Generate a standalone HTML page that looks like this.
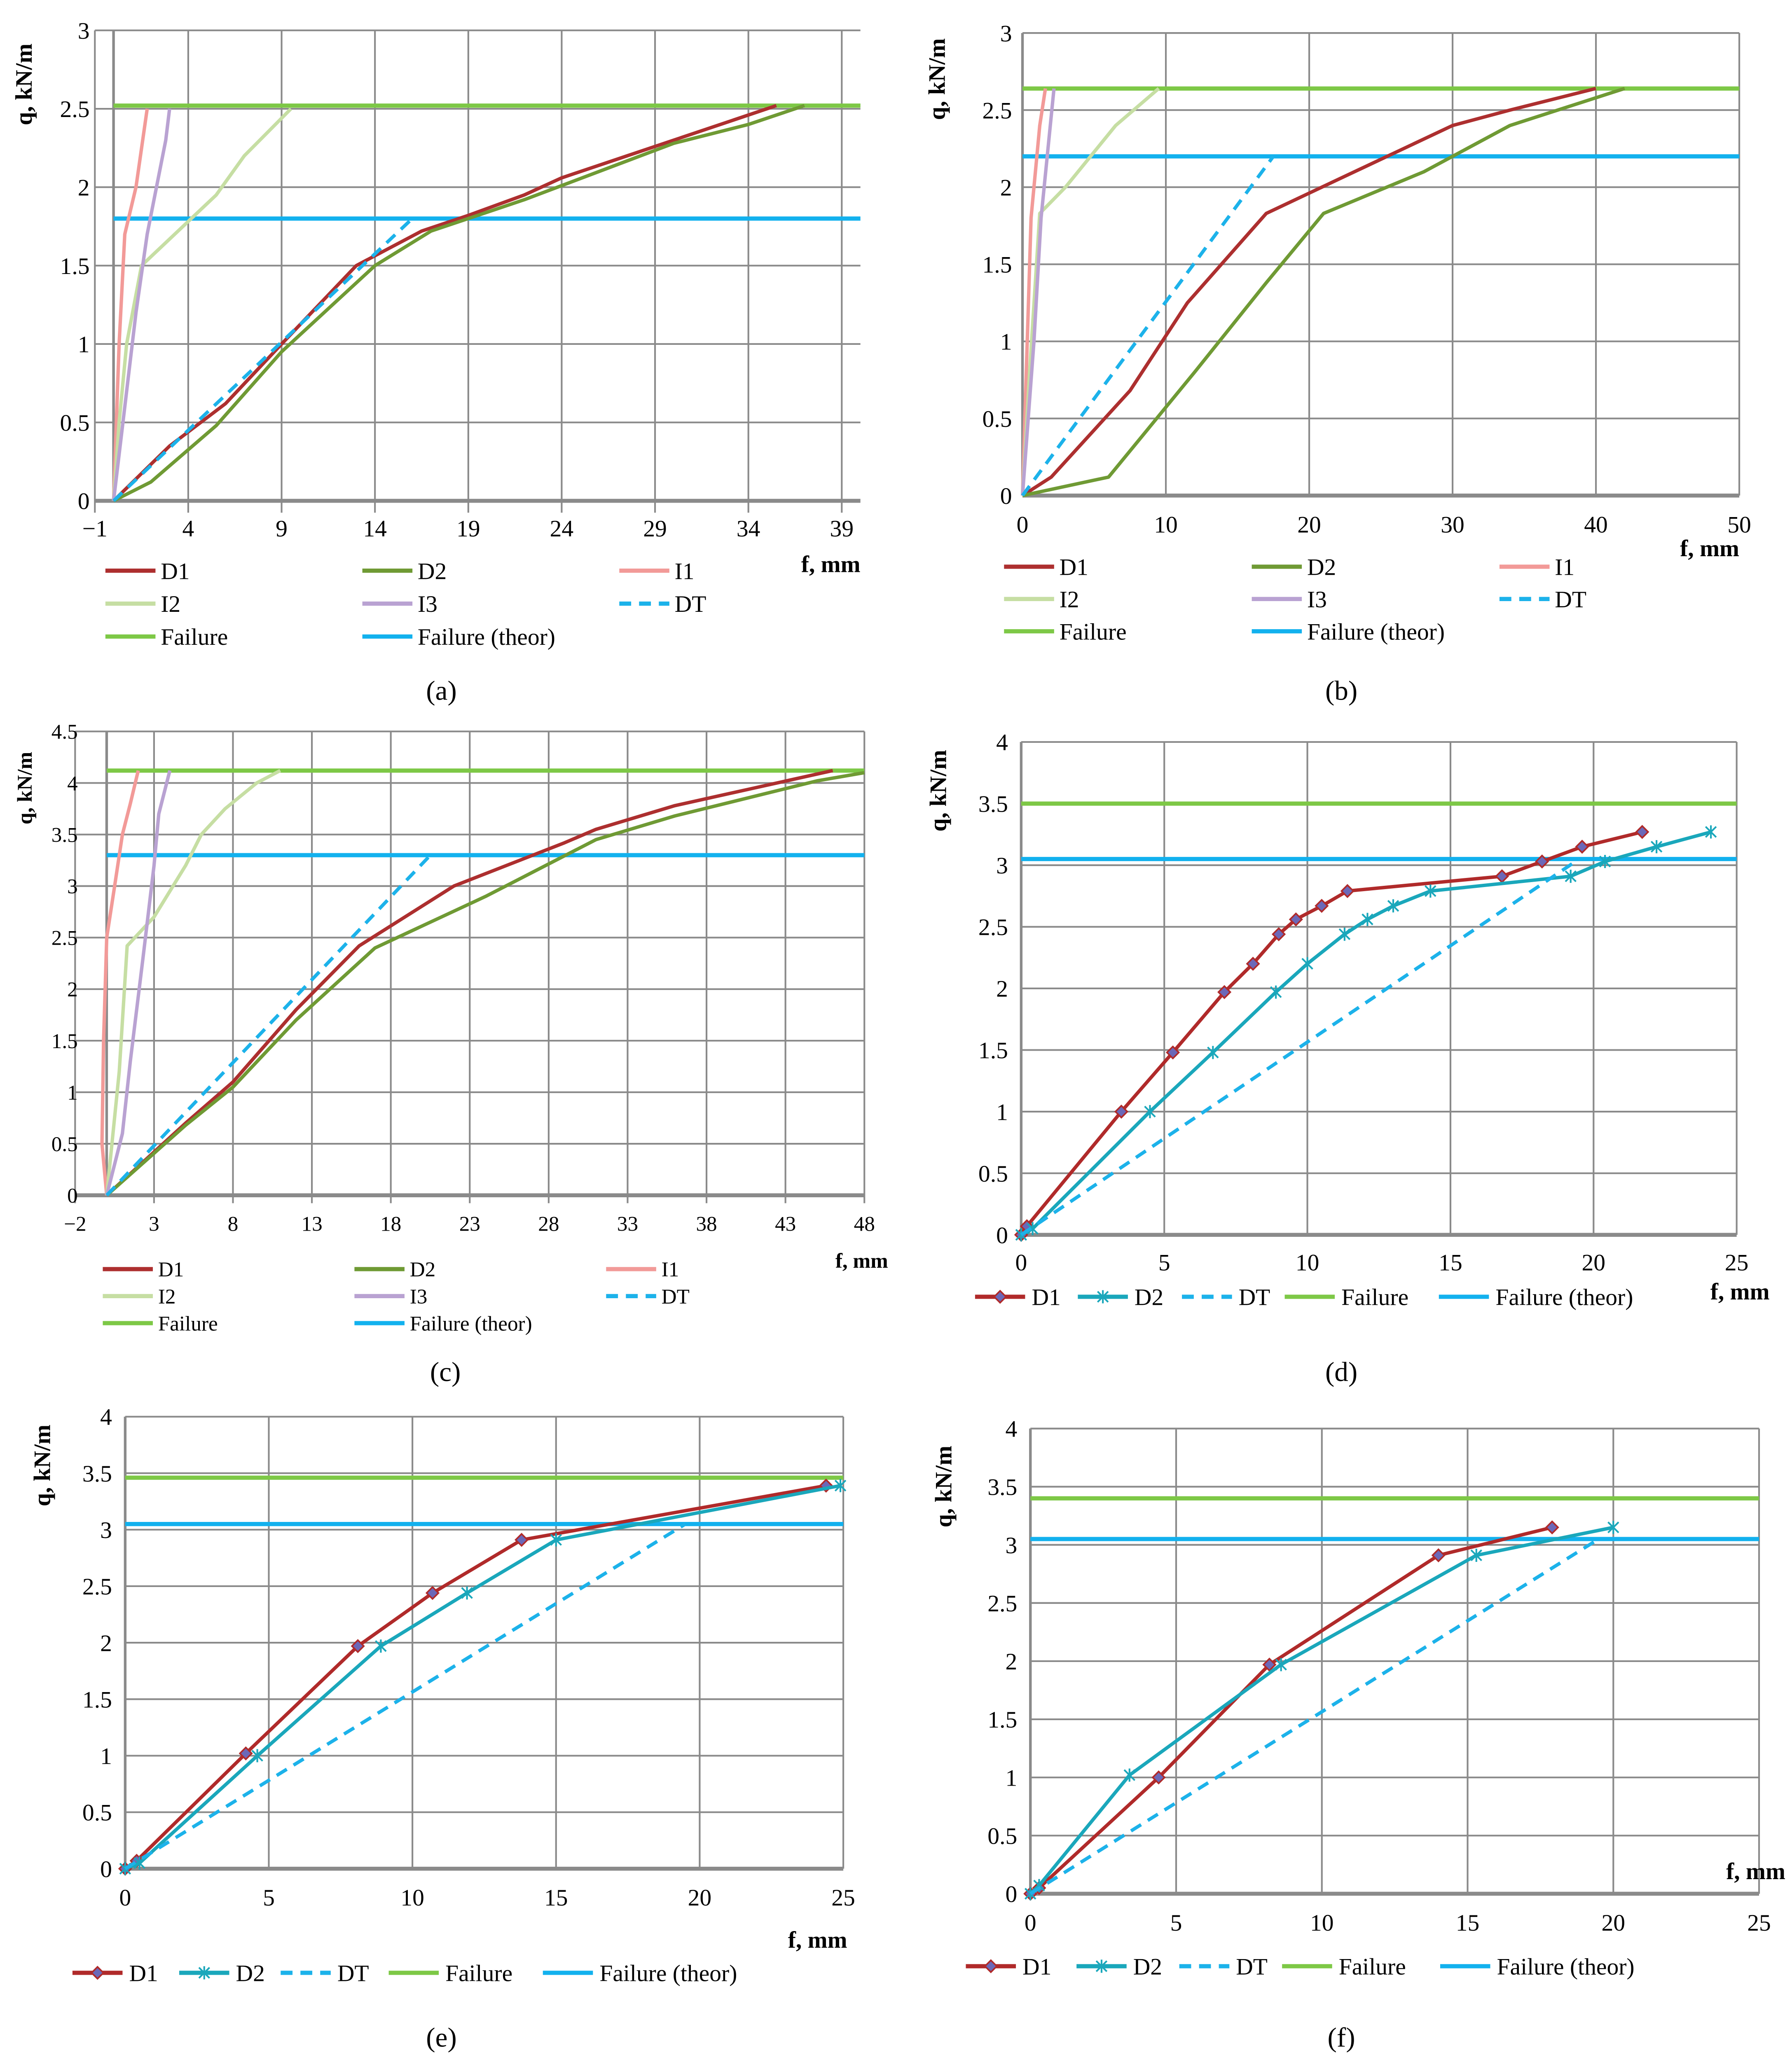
<!DOCTYPE html>
<html><head><meta charset="utf-8"><style>
html,body{margin:0;padding:0;background:#fff;width:4350px;height:5014px;overflow:hidden}
svg{display:block}
text{font-family:"Liberation Serif",serif;fill:#000}
</style></head><body>
<svg id="fig" width="4350" height="5014" viewBox="0 0 1360 1567.5" xmlns="http://www.w3.org/2000/svg"></svg>
<script>
// ---- data (x = f mm, y = q kN/m) ----
const aD1=[[0,0],[3,0.35],[6,0.62],[9,1.0],[13,1.5],[16.5,1.72],[19,1.82],[22,1.95],[24,2.06],[30,2.3],[35.5,2.52]];
const aD2=[[0,0],[2,0.12],[5.5,0.48],[9,0.95],[14,1.5],[17,1.72],[22,1.92],[30,2.28],[34,2.4],[37,2.52]];
const aI1=[[0,0],[0.3,1.0],[0.6,1.7],[1.2,2.0],[1.8,2.5]];
const aI2=[[0,0],[0.3,0.5],[0.7,1.0],[1.5,1.5],[5.5,1.95],[7,2.2],[9.5,2.5]];
const aI3=[[0,0],[0.5,0.5],[1.2,1.2],[1.8,1.7],[2.8,2.3],[3,2.5]];
const aDT=[[0,0],[16,1.8]];
const aFail=[2.52,1.8];
const aXticks=[-1,4,9,14,19,24,29,34,39];
const bD1=[[0,0],[2,0.12],[7.5,0.68],[11.5,1.25],[17,1.83],[22,2.05],[30,2.4],[34,2.5],[40,2.64]];
const bD2=[[0,0],[6,0.12],[12,0.8],[17,1.38],[21,1.83],[28,2.1],[34,2.4],[42,2.64]];
const bI1=[[0,0],[0.6,1.8],[1.2,2.4],[1.6,2.64]];
const bI2=[[0,0],[0.5,0.8],[1.2,1.83],[3,2.0],[6.5,2.4],[9.5,2.64]];
const bI3=[[0,0],[0.8,1.0],[1.3,1.8],[2.2,2.64]];
const bDT=[[0,0],[17.5,2.2]];
const bFail=[2.64,2.2];
const bXticks=[0,10,20,30,40,50];
const cD1=[[0,0],[5,0.7],[8,1.1],[12,1.8],[16,2.42],[22,3.0],[29,3.42],[31,3.55],[36,3.78],[41,3.95],[46,4.12]];
const cD2=[[0,0],[5,0.68],[8,1.05],[12,1.7],[17,2.4],[24,2.9],[31,3.45],[36,3.68],[45,4.02],[48,4.1]];
const cI1=[[0,0],[-0.3,0.5],[-0.2,1.5],[0,2.5],[0.5,3.0],[1,3.5],[1.5,3.8],[2,4.12]];
const cI2=[[0,0],[0.8,1.2],[1.3,2.42],[3,2.7],[5,3.2],[6,3.5],[7.5,3.75],[9.5,4.0],[11,4.12]];
const cI3=[[0,0],[1,0.6],[1.5,1.3],[2.3,2.3],[3,3.2],[3.3,3.7],[4,4.12]];
const cDT=[[0,0],[20.5,3.3]];
const cFail=[4.12,3.3];
const cXticks=[-2,3,8,13,18,23,28,33,38,43,48];
const dD1=[[0,0],[0.2,0.07],[3.5,1.0],[5.3,1.48],[7.1,1.97],[8.1,2.2],[9,2.44],[9.6,2.56],[10.5,2.67],[11.4,2.79],[16.8,2.91],[18.2,3.03],[19.6,3.15],[21.7,3.27]];
const dD2=[[0,0],[0.4,0.05],[4.5,1.0],[6.7,1.48],[8.9,1.97],[10,2.2],[11.3,2.44],[12.1,2.56],[13,2.67],[14.3,2.79],[19.2,2.91],[20.4,3.03],[22.2,3.15],[24.1,3.27]];
const dDT=[[0,0],[19.5,3.05]];
const dFail=[3.5,3.05];
const eD1=[[0,0],[0.4,0.07],[4.2,1.02],[8.1,1.97],[10.7,2.44],[13.8,2.91],[24.4,3.39]];
const eD2=[[0,0],[0.5,0.05],[4.6,1.0],[8.9,1.97],[11.9,2.44],[15,2.91],[24.9,3.39]];
const eDT=[[0,0],[19.5,3.05]];
const eFail=[3.46,3.05];
const fD1=[[0,0],[0.3,0.05],[4.4,1.0],[8.2,1.97],[14,2.91],[17.9,3.15]];
const fD2=[[0,0],[0.3,0.07],[3.4,1.02],[8.6,1.97],[15.3,2.91],[20,3.15]];
const fDT=[[0,0],[19.5,3.05]];
const fFail=[3.4,3.05];
const xt25=[0,5,10,15,20,25];

const C={D1:'#ad2f2f',D2:'#6f9a34',I1:'#f29a98',I2:'#c6dea3',I3:'#b9a2d2',DT:'#1cb2ea',F:'#7dc846',FT:'#12b1ee',D1b:'#b02a2a',D2b:'#1aa7bb'};
const svg=document.getElementById('fig');
const NS='http://www.w3.org/2000/svg';
function mk(tag,attrs,parent){const e=document.createElementNS(NS,tag);for(const k in attrs)e.setAttribute(k,attrs[k]);(parent||svg).appendChild(e);return e;}
function txt(s,x,y,attrs,parent){const e=mk('text',Object.assign({x:x,y:y},attrs),parent);e.textContent=s;return e;}

function panel(p){
  const g=mk('g',{});
  
  
  const sx=v=>p.px0+(v-p.xmin)/(p.xmax-p.xmin)*(p.px1-p.px0);
  const sy=v=>p.py0-(v)/(p.ymax)*(p.py0-p.py1);
  for(const t of p.xticks){const l=mk('line',{x1:sx(t),x2:sx(t),y1:p.py1,y2:p.py0+(p.tick||0),stroke:'#8a8a8a','stroke-width':1.3},g);
    
    const tl=txt(String(t).replace('-','\u2212'),sx(t),p.py0+p.xlab,{'text-anchor':'middle','font-size':p.fs},g);
    }
  for(let v=0;v<=p.ymax+1e-9;v+=0.5){const y=sy(v);
    const l=mk('line',{x1:p.px0,x2:p.px1,y1:y,y2:y,stroke:'#8a8a8a','stroke-width':v===0?3:1.3},g);
    
    const tl=txt(String(v),p.px0-(p.ylabOff||5),y+p.fs*0.35,{'text-anchor':'end','font-size':p.fs},g);
    }
  const ya=mk('line',{x1:sx(0),x2:sx(0),y1:p.py1,y2:p.py0,stroke:'#8a8a8a','stroke-width':2},g);
  
  const fl=mk('line',{x1:sx(0),x2:p.px1,y1:sy(p.fail[0]),y2:sy(p.fail[0]),stroke:C.F,'stroke-width':3.2},g);
  
  const ft=mk('line',{x1:sx(0),x2:p.px1,y1:sy(p.fail[1]),y2:sy(p.fail[1]),stroke:C.FT,'stroke-width':3.2},g);
  
  for(const s of p.series){
    const pts=s.data.map(d=>sx(d[0]).toFixed(1)+','+sy(d[1]).toFixed(1)).join(' ');
    const pl=mk('polyline',{points:pts,fill:'none',stroke:s.color,'stroke-width':s.w||2.6,'stroke-dasharray':s.dash||'none','stroke-linejoin':'round'},g);
    
    if(s.marker){for(const d of s.data){const x=sx(d[0]),y=sy(d[1]);let m;
      if(s.marker==='diamond'){m=mk('polygon',{points:`${x},${y-4.5} ${x+4.5},${y} ${x},${y+4.5} ${x-4.5},${y}`,fill:'#6b68b8',stroke:'#b02a2a','stroke-width':1.2},g);}
      else{m=mk('path',{d:`M${x-4},${y-4}L${x+4},${y+4}M${x-4},${y+4}L${x+4},${y-4}M${x},${y-5}L${x},${y+5}`,stroke:s.color,'stroke-width':1.3,fill:'none'},g);}
      }}
  }
  const yt=txt('q, kN/m',0,0,{'font-size':p.fs,'font-weight':'bold','text-anchor':'middle',transform:`translate(${p.yt[0]},${p.yt[1]}) rotate(-90)`},g);
  
  const xt=txt(p.xtitle,p.xtp[0],p.xtp[1],{'font-size':p.fs,'font-weight':'bold'},g);
  
  for(const L of p.legend){
    const s=L.st;
    const ll=mk('line',{x1:L.x,x2:L.x+38,y1:L.y,y2:L.y,stroke:s.color,'stroke-width':3.2,'stroke-dasharray':s.dash||'none'},g);
    
    if(s.marker==='diamond'){const x=L.x+19,y=L.y;const m=mk('polygon',{points:`${x},${y-4.5} ${x+4.5},${y} ${x},${y+4.5} ${x-4.5},${y}`,fill:'#6b68b8',stroke:'#b02a2a','stroke-width':1.2},g);}
    if(s.marker==='star'){const x=L.x+19,y=L.y;const m=mk('path',{d:`M${x-4},${y-4}L${x+4},${y+4}M${x-4},${y+4}L${x+4},${y-4}M${x},${y-5}L${x},${y+5}`,stroke:s.color,'stroke-width':1.3},g);}
    const lt=txt(s.name,L.x+(L.tx||42),L.y+p.fs*0.35,{'font-size':p.fs},g);
    
  }
  const cap=txt('('+p.id+')',p.cap[0],p.cap[1],{'font-size':21,'text-anchor':'middle'},g);
  
}
function S6(d1,d2,i1,i2,i3,dt){return [
 {name:'D1',data:d1,color:C.D1},{name:'D2',data:d2,color:C.D2},{name:'I1',data:i1,color:C.I1},
 {name:'I2',data:i2,color:C.I2},{name:'I3',data:i3,color:C.I3},{name:'DT',data:dt,color:C.DT,dash:'9,6'}];}
function leg6(s,x,y,dx,dy){const F={name:'Failure',color:C.F},T={name:'Failure (theor)',color:C.FT};
 const all=[s[0],s[1],s[2],s[3],s[4],s[5],F,T];return all.map((st,i)=>({st:st,x:x+(i%3)*dx,y:y+Math.floor(i/3)*dy}));}
function S3(d1,d2,dt){return [{name:'D1',data:d1,color:C.D1b,marker:'diamond'},{name:'D2',data:d2,color:C.D2b,marker:'star'},{name:'DT',data:dt,color:C.DT,dash:'9,6'}];}
function leg5(s,xs,y){const all=[s[0],s[1],s[2],{name:'Failure',color:C.F},{name:'Failure (theor)',color:C.FT}];return all.map((st,i)=>({st:st,x:xs[i],y:y,tx:43}));}

let s;
s=S6(aD1,aD2,aI1,aI2,aI3,aDT);
panel({id:'a',px0:72,px1:653,xmin:-1,xmax:40,py0:380,py1:23,ymax:3,xticks:aXticks,xlab:27,fs:18,tick:9,fail:aFail,series:s,
 yt:[24,64],xtitle:'f,  mm',xtp:[608,434],legend:leg6(s,80,433,195,25),cap:[335,531],ylabOff:4});
s=S6(bD1,bD2,bI1,bI2,bI3,bDT);
panel({id:'b',px0:776,px1:1320,xmin:0,xmax:50,py0:376,py1:25,ymax:3,xticks:bXticks,xlab:28,fs:18,tick:0,fail:bFail,series:s,
 yt:[717,60],xtitle:'f,  mm',xtp:[1275,422],legend:leg6(s,762,430,188,24.5),cap:[1018,531],ylabOff:8});
s=S6(cD1,cD2,cI1,cI2,cI3,cDT);
panel({id:'c',px0:57,px1:656,xmin:-2,xmax:48,py0:907,py1:555,ymax:4.5,xticks:cXticks,xlab:27,fs:16,tick:6,fail:cFail,series:s,
 yt:[24,598],xtitle:'f,  mm',xtp:[634,962],legend:leg6(s,78,963,191,20.5),cap:[338,1048],ylabOff:-2});
s=S3(dD1,dD2,dDT);
panel({id:'d',px0:775,px1:1318,xmin:0,xmax:25,py0:937,py1:563,ymax:4,xticks:xt25,xlab:27,fs:18,tick:0,fail:dFail,series:s,
 yt:[718,600],xtitle:'f, mm',xtp:[1298,986],legend:leg5(s,[740,818,897,975,1092],984),cap:[1018,1048],ylabOff:10});
s=S3(eD1,eD2,eDT);
panel({id:'e',px0:95,px1:640,xmin:0,xmax:25,py0:1418,py1:1075,ymax:4,xticks:xt25,xlab:28,fs:18,tick:0,fail:eFail,series:s,
 yt:[38,1112],xtitle:'f, mm',xtp:[598,1478],legend:leg5(s,[55,136,213,295,412],1497),cap:[335,1553],ylabOff:10});
s=S3(fD1,fD2,fDT);
panel({id:'f',px0:782,px1:1335,xmin:0,xmax:25,py0:1437,py1:1084,ymax:4,xticks:xt25,xlab:28,fs:18,tick:0,fail:fFail,series:s,
 yt:[722,1128],xtitle:'f, mm',xtp:[1310,1426],legend:leg5(s,[733,817,895,973,1093],1492),cap:[1018,1553],ylabOff:10});
</script>
</body></html>
